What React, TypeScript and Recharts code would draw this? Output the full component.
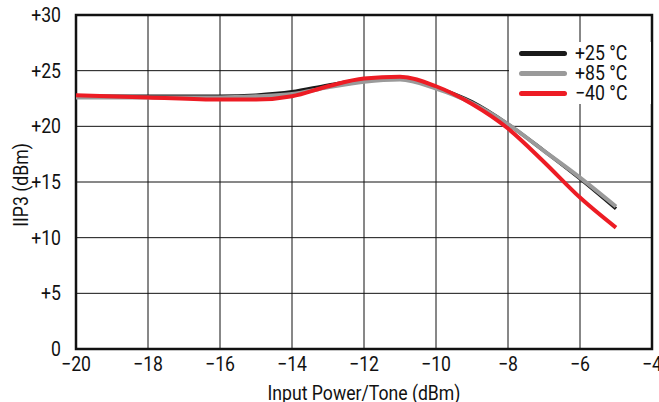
import { CartesianGrid, Line, LineChart, ReferenceArea, XAxis, YAxis } from "recharts";

const inputPower = [-20, -18, -16, -15, -14, -13, -12, -11, -10, -9, -8, -7, -6, -5];
const iip3At25 = [22.7, 22.7, 22.7, 22.8, 23.1, 23.7, 24.2, 24.4, 23.5, 22.2, 20.2, 17.8, 15.3, 12.6];
const iip3At85 = [22.6, 22.6, 22.6, 22.7, 22.9, 23.5, 24.0, 24.2, 23.4, 22.1, 20.2, 17.8, 15.4, 12.8];
const iip3AtM40 = [22.8, 22.6, 22.4, 22.4, 22.7, 23.6, 24.3, 24.45, 23.6, 22.0, 19.8, 16.8, 13.6, 10.9];

const xTicks = [-20, -18, -16, -14, -12, -10, -8, -6, -4];
const yTicks = [0, 5, 10, 15, 20, 25, 30];

const series = [
  { key: "t25", name: "+25 °C", color: "#1a1a1a", width: 3.5 },
  { key: "t85", name: "+85 °C", color: "#9a9a9a", width: 4 },
  { key: "tm40", name: "\u221240 °C", color: "#ed1c24", width: 4 },
];

const data = inputPower.map((x, i) => ({
  x,
  t25: iip3At25[i],
  t85: iip3At85[i],
  tm40: iip3AtM40[i],
}));

// datasheet uses a condensed helvetica; squeeze Roboto horizontally to get close
const font = "Roboto, 'DejaVu Sans Condensed', sans-serif";
const squeeze = 0.84;
const size = 21;

function XTick({ x, y, payload }: any) {
  return (
    <g transform={`translate(${x},${y})`}>
      <text transform={`scale(${squeeze},1)`} textAnchor="middle" dy={14} fontFamily={font} fontSize={size} fill="#111">
        {String(payload.value).replace("-", "\u2212")}
      </text>
    </g>
  );
}

function YTick({ x, y, payload }: any) {
  const v = payload.value;
  return (
    <g transform={`translate(${x},${y})`}>
      <text transform={`scale(${squeeze},1)`} textAnchor="end" dy={7} fontFamily={font} fontSize={size} fill="#111">
        {v > 0 ? `+${v}` : "0"}
      </text>
    </g>
  );
}

function XTitle({ viewBox }: any) {
  const cx = viewBox.x + viewBox.width / 2;
  return (
    <g transform={`translate(${cx},${400})`}>
      <text transform={`scale(${squeeze},1)`} textAnchor="middle" fontFamily={font} fontSize={size} fill="#111">
        Input Power/Tone (dBm)
      </text>
    </g>
  );
}

function YTitle({ viewBox }: any) {
  const cy = viewBox.y + viewBox.height / 2 + 3;
  return (
    <g transform={`translate(${28},${cy}) rotate(-90)`}>
      <text transform={`scale(${squeeze},1)`} textAnchor="middle" fontFamily={font} fontSize={size} fill="#111">
        IIP3 (dBm)
      </text>
    </g>
  );
}

// legend sits over the grid with a white box, like the datasheet plot
function LegendBox() {
  return (
    <div
      style={{
        position: "absolute",
        left: 509,
        top: 42,
        width: 132,
        background: "#fff",
        padding: "1px 0 1px 10px",
        fontFamily: font,
        fontSize: size,
        color: "#111",
        lineHeight: "20px",
        whiteSpace: "nowrap",
      }}
    >
      {series.map((s) => (
        <div key={s.key} style={{ display: "flex", alignItems: "center", height: 20 }}>
          <span
            style={{
              display: "inline-block",
              flex: "none",
              width: 48,
              height: 5,
              borderRadius: 3,
              background: s.color,
              marginRight: 8,
            }}
          />
          <span style={{ display: "inline-block", transform: `scaleX(${squeeze})`, transformOrigin: "left center" }}>
            {s.name}
          </span>
        </div>
      ))}
    </div>
  );
}

export default function App() {
  return (
    <div style={{ position: "absolute", left: 0, top: 0, width: 659, height: 402, background: "#fff" }}>
      <LineChart width={659} height={402} data={data} margin={{ top: 15, right: 7, bottom: 0, left: 0 }}>
        <CartesianGrid stroke="#111" strokeWidth={1} />
        <XAxis
          dataKey="x"
          type="number"
          domain={[-20, -4]}
          ticks={xTicks}
          tick={<XTick />}
          tickLine={false}
          axisLine={false}
          height={53}
          tickMargin={2}
          label={<XTitle />}
        />
        <YAxis
          type="number"
          domain={[0, 30]}
          ticks={yTicks}
          tick={<YTick />}
          tickLine={false}
          axisLine={false}
          width={76}
          tickMargin={9}
          label={<YTitle />}
        />
        <ReferenceArea x1={-20} x2={-4} y1={0} y2={30} fill="none" stroke="#111" strokeWidth={2.5} ifOverflow="visible" />
        {series.map((s) => (
          <Line
            key={s.key}
            type="monotone"
            dataKey={s.key}
            name={s.name}
            stroke={s.color}
            strokeWidth={s.width}
            dot={false}
            isAnimationActive={false}
          />
        ))}
      </LineChart>
      <LegendBox />
    </div>
  );
}
